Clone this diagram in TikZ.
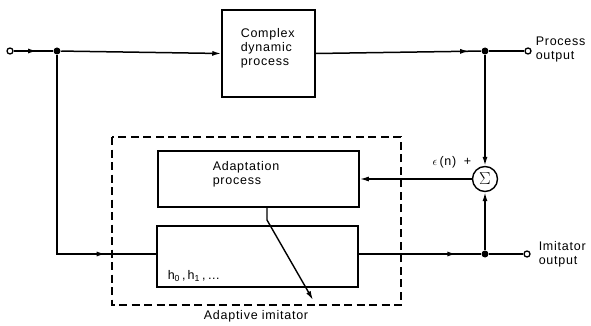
\documentclass[tikz,border=0pt]{standalone}
\usepackage{fontspec}
\setmainfont{Liberation Sans}[LetterSpace=6]
\usetikzlibrary{arrows.meta,decorations.markings}
\begin{document}
\begin{tikzpicture}[x=1pt,y=-1pt,
  line width=1.5pt,
  font=\fontsize{12.5}{14}\selectfont,
  tip/.style={-{Latex[length=9pt,width=5pt]}},
  midtip/.style={postaction={decorate},decoration={markings,mark=at position #1 with {\arrow{Latex[length=9pt,width=5pt]}}}},
  blk/.style={draw,rectangle,inner sep=0pt},
  term/.style={draw,circle,fill=white,inner sep=0pt,minimum size=6pt,line width=1.3pt},
  dot/.style={circle,fill=black,inner sep=0pt,minimum size=7pt},
  lbl/.style={align=left,inner sep=0pt,anchor=west}
]
\useasboundingbox (0,0) rectangle (591,326);
% blocks
\node[blk,minimum width=93pt,minimum height=87pt] (cdp) at (268.5,53.5) {};
\node[lbl] (cdpt) at (240,48) {Complex\\dynamic\\process};
\node[blk,minimum width=201pt,minimum height=56pt] (adp) at (258.5,179) {};
\node[lbl] (adpt) at (212,174) {Adaptation\\process};
\node[blk,minimum width=201pt,minimum height=61pt] (imi) at (257.5,256.5) {};
\node[lbl] (hh) at (167,276) {h\textsubscript{0}\,,\,h\textsubscript{1}\,,\,\dots};
% dashed box
\draw[dash pattern=on 8pt off 4.5pt] (112,137) rectangle (401,305);
\node[inner sep=0pt] (ai) at (256,316) {Adaptive imitator};
% terminals and junctions
\node[term] (in) at (10,51) {};
\node[dot] (j1) at (57,51) {};
\coordinate (c1) at (57,254);
\node[dot] (j2) at (485,51) {};
\node[term] (outp) at (528,51) {};
\node[dot] (j3) at (485,254) {};
\node[term] (outi) at (527,254) {};
\node[draw,circle,minimum size=25pt,inner sep=0pt,line width=1.4pt] (sig) at (485,179) {\fontsize{16}{16}\selectfont$\Sigma$};
\node[lbl] (po) at (535,49) {Process\\output};
\node[lbl] (io) at (538,254) {Imitator\\output};
\node[inner sep=0pt] (eps) at (452,162) {$\epsilon$\,(n)\; +};
% connectors
\draw[midtip=0.6] (in) -- (j1);
\draw[tip] (j1) -- (cdp.west);
\draw[midtip=0.93] (cdp.east) -- (j2);
\draw (j2) -- (outp);
\draw[tip] (j2) -- (sig.north);
\draw[tip] (sig.west) -- (adp.east);
\draw[midtip=0.83] (j1) -- (c1) -- (imi.west |- c1);
\draw[midtip=0.8] (imi.east |- j3) -- (j3);
\draw (j3) -- (outi);
\draw[tip] (j3) -- (sig.south);
\coordinate (d0) at (267,220);
\coordinate (d1) at (313,300);
\draw[tip,line width=1.4pt] (adp.south -| d0) -- (d0) -- (d1);
\end{tikzpicture}
\end{document}
